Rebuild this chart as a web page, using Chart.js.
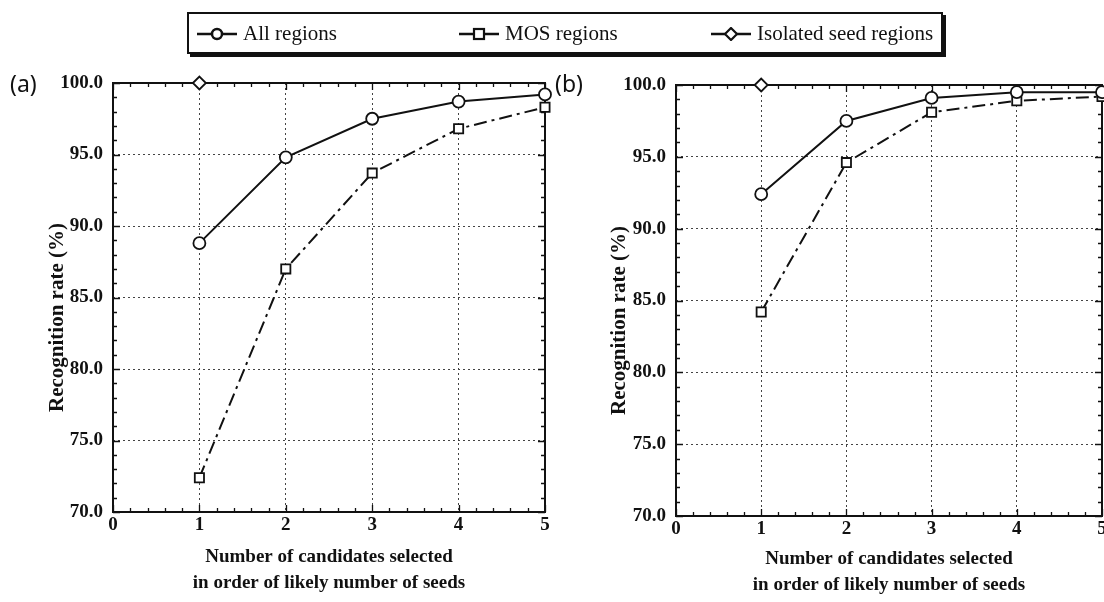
<!DOCTYPE html>
<html lang="en">
<head>
    <meta charset="UTF-8">
    <title>Recognition rate vs number of candidates</title>
    <script src="https://cdn.jsdelivr.net/npm/chart.js"></script>
    <style>
        body {
            margin: 0;
            background: #fff;
        }
        #page {
            position: relative;
            width: 1104px;
            height: 602px;
            overflow: hidden;
        }
        .panel {
            position: absolute;
            top: 0;
        }
        .tag {
            position: absolute;
            top: 67px;
            font: 23px 'Noto Sans', sans-serif;
            color: #111;
        }
        #legend {
            position: absolute;
            left: 187px;
            top: 12px;
            width: 752px;
            height: 38px;
            border: 2px solid #111;
            box-shadow: 3px 3px 0 #111;
            background: #fff;
            font: 21px 'Liberation Serif', serif;
            color: #111;
        }
        .item {
            position: absolute;
            top: 7px;
            display: flex;
            align-items: center;
            white-space: nowrap;
        }
        .item svg {
            margin-right: 6px;
        }
    </style>
</head>
<body>
    <div id="page">
        <canvas id="chartA" class="panel" style="left:0" width="552" height="602"></canvas>
        <canvas id="chartB" class="panel" style="left:552px" width="552" height="602"></canvas>
        <div class="tag" style="left:10px">(a)</div>
        <div class="tag" style="left:555px">(b)</div>

        <!-- legend -->
        <div id="legend">
            <div class="item" style="left:8px">
                <svg width="40" height="14"><line x1="0" y1="7" x2="40" y2="7" stroke="#111" stroke-width="2.5"/><circle cx="20" cy="7" r="5" fill="#fff" stroke="#111" stroke-width="2.5"/></svg>All regions
            </div>
            <div class="item" style="left:270px">
                <svg width="40" height="14"><line x1="0" y1="7" x2="40" y2="7" stroke="#111" stroke-width="2.5"/><rect x="15" y="2" width="10" height="10" fill="#fff" stroke="#111" stroke-width="2.2"/></svg>MOS regions
            </div>
            <div class="item" style="left:522px">
                <svg width="40" height="14"><line x1="0" y1="7" x2="40" y2="7" stroke="#111" stroke-width="2.5"/><polygon points="20,1 26,7 20,13 14,7" fill="#fff" stroke="#111" stroke-width="2.2"/></svg>Isolated seed regions
            </div>
        </div>
    </div>

    <script>
        // values
        const candidates = [1, 2, 3, 4, 5];
        const allRegionsA = [88.8, 94.8, 97.5, 98.7, 99.2];
        const mosRegionsA = [72.4, 87.0, 93.7, 96.8, 98.3];
        const allRegionsB = [92.4, 97.5, 99.1, 99.5, 99.5];
        const mosRegionsB = [84.2, 94.6, 98.1, 98.9, 99.2];
        const isolatedX = [1];
        const isolatedA = [100.0];
        const isolatedB = [100.0];

        const xMin = 0, xMax = 5, xStep = 1, xMinor = 0.2;
        const yMin = 70, yMax = 100, yStep = 5, yMinor = 1;

        const serif = "'Liberation Serif', serif";
        const axisFont = { family: serif, size: 19, weight: 'bold' };

        function points(xs, ys) {
            return xs.map((x, i) => ({ x: x, y: ys[i] }));
        }

        // frame around the plot plus inward ticks on all four sides
        const frameTicks = {
            id: 'frameTicks',
            beforeDatasetsDraw(chart) {
                const { ctx, chartArea: a, scales: { x, y } } = chart;
                ctx.save();
                ctx.strokeStyle = '#111';
                ctx.lineWidth = 1.3;
                ctx.beginPath();
                for (let v = xMin; v <= xMax + 1e-6; v += xMinor) {
                    const px = Math.round(x.getPixelForValue(v)) + 0.5;
                    const major = Math.abs(v - Math.round(v)) < 1e-6;
                    const len = major ? 7 : 4;
                    ctx.moveTo(px, a.bottom); ctx.lineTo(px, a.bottom - len);
                    ctx.moveTo(px, a.top); ctx.lineTo(px, a.top + len);
                }
                for (let v = yMin; v <= yMax + 1e-6; v += yMinor) {
                    const py = Math.round(y.getPixelForValue(v)) + 0.5;
                    const len = (Math.round(v) % yStep === 0) ? 7 : 4;
                    ctx.moveTo(a.left, py); ctx.lineTo(a.left + len, py);
                    ctx.moveTo(a.right, py); ctx.lineTo(a.right - len, py);
                }
                ctx.stroke();
                ctx.lineWidth = 2;
                ctx.strokeRect(a.left, a.top, a.right - a.left, a.bottom - a.top);
                ctx.restore();
            }
        };

        // y title sits a little below the middle of the axis in the original
        const sideTitle = {
            id: 'sideTitle',
            afterDraw(chart, args, opts) {
                const { ctx, chartArea: a } = chart;
                ctx.save();
                ctx.translate(opts.x, (a.top + a.bottom) / 2 + opts.shift);
                ctx.rotate(-Math.PI / 2);
                ctx.font = 'bold 21px ' + serif;
                ctx.fillStyle = '#111';
                ctx.textAlign = 'center';
                ctx.textBaseline = 'middle';
                ctx.fillText(opts.text, 0, 0);
                ctx.restore();
            }
        };

        function makeChart(id, allVals, mosVals, isoVals, box) {
            return new Chart(document.getElementById(id), {
                type: 'line',
                data: {
                    datasets: [
                        {
                            label: 'All regions',
                            data: points(candidates, allVals),
                            borderColor: '#111',
                            borderWidth: 2,
                            pointStyle: 'circle',
                            pointRadius: 6,
                            pointBorderWidth: 1.8,
                            pointBackgroundColor: '#fff',
                            pointBorderColor: '#111',
                            clip: false
                        },
                        {
                            label: 'MOS regions',
                            data: points(candidates, mosVals),
                            borderColor: '#111',
                            borderWidth: 2,
                            borderDash: [13, 5, 3, 5],
                            pointStyle: 'rect',
                            pointRadius: 6.5,
                            pointBorderWidth: 1.8,
                            pointBackgroundColor: '#fff',
                            pointBorderColor: '#111',
                            clip: false
                        },
                        {
                            label: 'Isolated seed regions',
                            data: points(isolatedX, isoVals),
                            borderColor: '#111',
                            pointStyle: 'rectRot',
                            pointRadius: 6.5,
                            pointBorderWidth: 1.8,
                            pointBackgroundColor: '#fff',
                            pointBorderColor: '#111',
                            clip: false
                        }
                    ]
                },
                options: {
                    responsive: false,
                    animation: false,
                    events: [],
                    layout: {
                        autoPadding: false,
                        padding: { left: 0, top: box.top, right: box.right, bottom: 0 }
                    },
                    plugins: {
                        legend: { display: false },
                        tooltip: { enabled: false },
                        sideTitle: { text: 'Recognition rate (%)', x: box.titleX, shift: 20 }
                    },
                    scales: {
                        x: {
                            type: 'linear',
                            min: xMin,
                            max: xMax,
                            ticks: { stepSize: xStep, color: '#111', font: axisFont, padding: 2, maxRotation: 0 },
                            grid: { color: '#444', lineWidth: 1, drawTicks: false },
                            border: { display: false, dash: [2, 3] },
                            title: {
                                display: true,
                                text: ['Number of candidates selected', 'in order of likely number of seeds'],
                                color: '#111',
                                font: { family: serif, size: 19, weight: 'bold', lineHeight: 1.37 },
                                padding: { top: 0, bottom: box.titleBottom }
                            },
                            afterFit(scale) {
                                scale.height = box.xHeight;
                                scale.paddingLeft = 0;
                                scale.paddingRight = 0;
                            }
                        },
                        y: {
                            min: yMin,
                            max: yMax,
                            ticks: {
                                stepSize: yStep,
                                color: '#111',
                                font: axisFont,
                                padding: 10,
                                callback: v => v.toFixed(1)
                            },
                            grid: { color: '#444', lineWidth: 1, drawTicks: false },
                            border: { display: false, dash: [2, 3] },
                            afterFit(scale) {
                                scale.width = box.yWidth;
                                scale.paddingTop = 0;
                                scale.paddingBottom = 0;
                            }
                        }
                    }
                },
                plugins: [frameTicks, sideTitle]
            });
        }

        makeChart('chartA', allRegionsA, mosRegionsA, isolatedA,
            { top: 83, right: 7, xHeight: 90, yWidth: 113, titleX: 58, titleBottom: 6 });
        makeChart('chartB', allRegionsB, mosRegionsB, isolatedB,
            { top: 85, right: 2, xHeight: 86, yWidth: 124, titleX: 68, titleBottom: 4 });
    </script>
</body>
</html>
